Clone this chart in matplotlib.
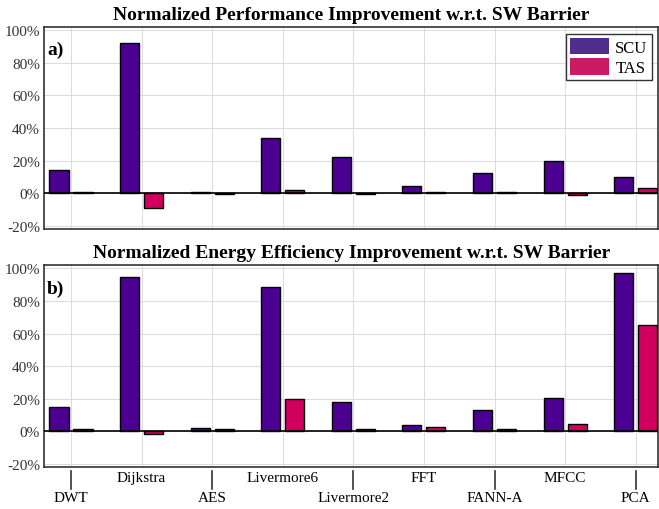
import matplotlib.pyplot as plt
import numpy as np
from matplotlib.ticker import PercentFormatter
from matplotlib.patches import Patch

plt.rcParams['font.family'] = ['Liberation Serif', 'DejaVu Serif']
plt.rcParams['axes.unicode_minus'] = False

benchmarks = ['DWT', 'Dijkstra', 'AES', 'Livermore6', 'Livermore2',
              'FFT', 'FANN-A', 'MFCC', 'PCA']

# values in percent
perf_scu = [14.2, 92.3, 1.0, 34.0, 22.5, 4.5, 12.3, 19.5, 10.0]
perf_tas = [0.5, -9.0, -0.2, 2.0, -0.5, 0.5, 1.0, -1.0, 3.0]
energy_scu = [15.0, 94.9, 2.0, 88.7, 18.3, 3.7, 13.4, 20.2, 97.5]
energy_tas = [1.3, -1.5, 1.3, 19.6, 1.6, 2.9, 1.6, 4.5, 65.2]

scu_color = '#4b0092'
tas_color = '#d1005e'

fig = plt.figure(figsize=(6.59, 5.10), dpi=100)
ax1 = fig.add_axes([0.067, 0.549, 0.932, 0.396])
ax2 = fig.add_axes([0.067, 0.082, 0.932, 0.396])

x = np.arange(len(benchmarks))
w = 0.27
off = 0.17

panels = [(ax1, perf_scu, perf_tas, 'Normalized Performance Improvement w.r.t. SW Barrier', 'a)'),
          (ax2, energy_scu, energy_tas, 'Normalized Energy Efficiency Improvement w.r.t. SW Barrier', 'b)')]

for ax, scu, tas, title, tag in panels:
    ax.bar(x - off, scu, w, color=scu_color, edgecolor='black', linewidth=1, zorder=3)
    ax.bar(x + off, tas, w, color=tas_color, edgecolor='black', linewidth=1, zorder=3)
    ax.axhline(0, color='black', linewidth=1.2, zorder=4)
    ax.set_xlim(-0.38, 8.32)
    ax.set_ylim(-22, 102)
    ax.set_yticks([-20, 0, 20, 40, 60, 80, 100])
    ax.yaxis.set_major_formatter(PercentFormatter(decimals=0))
    ax.set_xticks(x)
    ax.grid(True, color='#dddddd', linewidth=0.8, zorder=0)
    ax.set_axisbelow(True)
    ax.tick_params(axis='y', length=0, labelsize=11, labelcolor='#333333', pad=3)
    ax.set_title(title, fontsize=14, fontweight='bold', pad=6)
    ax.text(0.005, 0.93, tag, transform=ax.transAxes, fontsize=14,
            fontweight='bold', va='top', ha='left')
    for s in ax.spines.values():
        s.set_color('#333333')
        s.set_linewidth(1.2)

ax1.tick_params(axis='x', length=0, labelbottom=False)

# staggered category labels on the lower panel
ax2.set_xticklabels([])
ax2.tick_params(axis='x', length=0)
for i, name in enumerate(benchmarks):
    if i % 2 == 0:
        ax2.plot([i, i], [-0.02, -0.11], transform=ax2.get_xaxis_transform(),
                 color='#333333', linewidth=1.2, clip_on=False)
        ax2.text(i, -0.12, name, transform=ax2.get_xaxis_transform(),
                 ha='center', va='top', fontsize=11)
    else:
        ax2.text(i, -0.02, name, transform=ax2.get_xaxis_transform(),
                 ha='center', va='top', fontsize=11)

handles = [Patch(facecolor='#512d8f', edgecolor='none', label='SCU'),
           Patch(facecolor='#cc1b66', edgecolor='none', label='TAS')]
leg = ax1.legend(handles=handles, loc='upper right', fontsize=12, frameon=True,
                 fancybox=False, edgecolor='black', handlelength=2.3,
                 handleheight=1.15, borderpad=0.25, labelspacing=0.15,
                 handletextpad=0.4, borderaxespad=0.4)
leg.get_frame().set_linewidth(1.0)

fig.savefig('out.png', dpi=100)
